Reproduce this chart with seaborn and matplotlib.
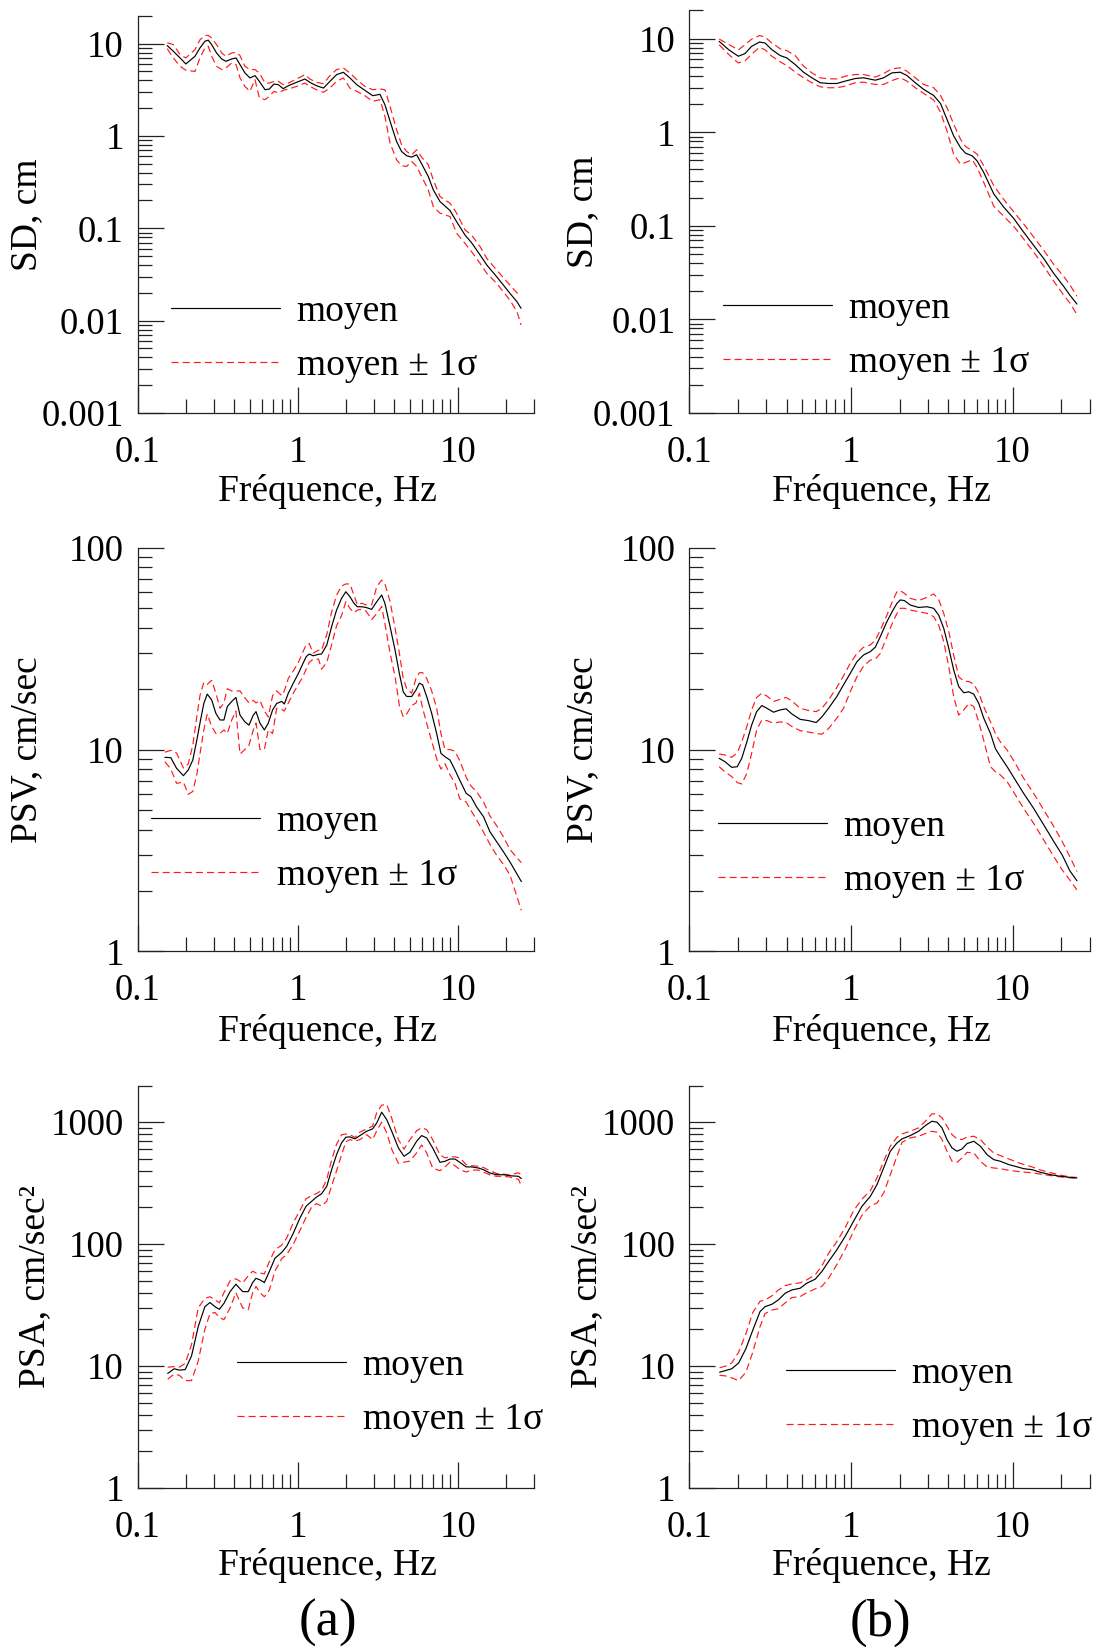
import numpy as np
import matplotlib
matplotlib.use("Agg")
import matplotlib.pyplot as plt
from matplotlib.ticker import LogLocator, NullFormatter
import seaborn as sns

# ---------------- Spectral data (frequency in Hz) ----------------
# Column (a): SD, cm
freq_sd_a = [0.153, 0.167, 0.184, 0.200, 0.228, 0.245, 0.263, 0.276, 0.290, 0.311,
             0.335, 0.356, 0.387, 0.412, 0.436, 0.468, 0.503, 0.541, 0.576, 0.625,
             0.665, 0.711, 0.757, 0.812, 0.874, 0.985, 1.11, 1.19, 1.31, 1.45,
             1.59, 1.75, 1.93, 2.12, 2.34, 2.63, 2.94, 3.27, 3.51, 3.78,
             4.15, 4.46, 4.80, 5.16, 5.54, 5.95, 6.55, 7.04, 7.75, 8.95,
             9.85, 11.1, 12.2, 13.8, 15.2, 17.5, 21.2, 23.5, 24.9]
sd_a_mean = [9.51, 8.26, 6.99, 6.02, 7.29, 8.98, 10.6, 10.9, 9.75, 7.92,
             6.82, 6.43, 6.82, 6.99, 5.92, 4.81, 4.25, 4.50, 3.90, 3.17,
             3.22, 3.65, 3.59, 3.25, 3.50, 3.81, 4.14, 3.81, 3.50, 3.30,
             3.90, 4.61, 4.89, 4.25, 3.59, 3.12, 2.73, 2.82, 2.18, 1.44,
             0.872, 0.679, 0.610, 0.590, 0.625, 0.500, 0.364, 0.261, 0.195, 0.156,
             0.118, 0.0848, 0.070, 0.0515, 0.0401, 0.030, 0.0198, 0.016, 0.0136]
sd_a_plus = [10.2, 9.75, 7.6, 7.0, 8.6, 11.0, 12.2, 12.3, 11.5, 9.75,
             7.92, 7.29, 7.92, 8.05, 7.41, 5.68, 5.23, 5.23, 4.81, 3.74,
             3.74, 3.90, 3.90, 3.59, 3.74, 4.14, 4.61, 4.14, 3.81, 3.68,
             4.50, 5.23, 5.45, 4.81, 4.07, 3.44, 3.17, 3.22, 3.17, 2.09,
             1.17, 0.803, 0.679, 0.625, 0.708, 0.59, 0.488, 0.335, 0.221, 0.187,
             0.146, 0.0962, 0.0848, 0.0634, 0.0473, 0.0354, 0.0243, 0.020, 0.019]
sd_a_minus = [8.8, 7.0, 5.68, 5.14, 5.0, 7.0, 8.98, 9.36, 7.29, 5.68,
              5.23, 5.45, 6.17, 5.92, 4.25, 3.44, 3.04, 4.07, 2.58, 2.47,
              2.69, 3.04, 2.92, 3.12, 3.22, 3.44, 3.74, 3.44, 3.17, 2.97,
              3.30, 3.90, 4.25, 3.30, 3.04, 2.73, 2.37, 2.47, 1.63, 0.837,
              0.552, 0.475, 0.468, 0.53, 0.468, 0.364, 0.261, 0.172, 0.146, 0.134,
              0.0884, 0.0689, 0.056, 0.0418, 0.0326, 0.0254, 0.0167, 0.0125, 0.009]

# Column (b): SD, cm
freq_sd_b = [0.153, 0.175, 0.201, 0.221, 0.243, 0.272, 0.294, 0.324, 0.365, 0.401,
             0.452, 0.509, 0.573, 0.645, 0.727, 0.818, 0.922, 1.063, 1.198, 1.415,
             1.593, 1.794, 2.02, 2.22, 2.50, 2.82, 3.25, 3.58, 3.93, 4.32,
             4.76, 5.11, 5.62, 6.03, 6.63, 7.65, 8.83, 10.2, 11.7, 13.5,
             15.6, 18.0, 20.8, 22.6, 25.0]
sd_b_mean = [9.37, 7.64, 6.49, 6.92, 8.29, 9.21, 8.99, 7.64, 6.60, 6.23,
             5.29, 4.38, 3.82, 3.38, 3.32, 3.32, 3.52, 3.75, 3.82, 3.60,
             3.82, 4.31, 4.38, 4.04, 3.38, 2.87, 2.47, 2.03, 1.37, 0.914,
             0.687, 0.598, 0.560, 0.495, 0.372, 0.219, 0.158, 0.119, 0.0857, 0.0618,
             0.0446, 0.0309, 0.0223, 0.0182, 0.0146]
sd_b_plus = [9.9, 8.7, 7.6, 8.6, 9.9, 10.8, 10.4, 9.0, 7.8, 7.45,
             6.6, 5.1, 4.31, 3.82, 3.72, 3.72, 3.97, 4.14, 4.14, 3.88,
             4.24, 4.76, 4.88, 4.49, 3.82, 3.24, 2.99, 2.48, 1.83, 1.22,
             0.843, 0.705, 0.638, 0.583, 0.438, 0.269, 0.191, 0.140, 0.105, 0.0760,
             0.0547, 0.0385, 0.0285, 0.0235, 0.0177]
sd_b_minus = [8.6, 6.8, 5.5, 5.8, 6.8, 8.1, 7.6, 6.5, 5.65, 5.16,
              4.4, 3.82, 3.38, 3.06, 2.99, 2.99, 3.11, 3.38, 3.43, 3.24,
              3.24, 3.57, 3.82, 3.52, 2.99, 2.60, 2.21, 1.64, 1.03, 0.583,
              0.457, 0.475, 0.508, 0.421, 0.292, 0.162, 0.126, 0.098, 0.0725, 0.0525,
              0.0370, 0.0255, 0.0180, 0.0150, 0.0113]

# Column (a): PSV, cm/sec
freq_psv_a = [0.148, 0.161, 0.175, 0.193, 0.207, 0.221, 0.234, 0.245, 0.259, 0.272,
              0.290, 0.308, 0.327, 0.346, 0.363, 0.387, 0.411, 0.436, 0.468, 0.496,
              0.528, 0.549, 0.581, 0.619, 0.655, 0.697, 0.739, 0.794, 0.825, 0.874,
              0.939, 1.01, 1.08, 1.13, 1.18, 1.25, 1.35, 1.41, 1.52, 1.63,
              1.75, 1.88, 2.00, 2.12, 2.25, 2.36, 2.51, 2.67, 2.90, 3.12,
              3.35, 3.51, 3.78, 4.06, 4.32, 4.57, 4.80, 5.16, 5.49, 5.76,
              6.04, 6.40, 6.88, 7.39, 7.86, 8.33, 8.95, 9.62, 10.3, 11.3,
              12.1, 13.1, 14.5, 15.9, 17.5, 19.3, 21.2, 25.0]
psv_a_mean = [9.15, 9.11, 8.07, 7.42, 7.92, 8.87, 11.1, 13.5, 16.9, 18.8,
              17.6, 15.1, 14.0, 14.0, 16.3, 17.3, 18.1, 14.8, 13.7, 13.2,
              14.8, 15.4, 13.5, 12.5, 13.5, 15.7, 16.9, 17.3, 16.8, 19.0,
              21.3, 23.8, 26.7, 28.8, 29.7, 29.1, 29.6, 29.7, 32.9, 40.6,
              49.0, 56.0, 60.4, 57.1, 52.9, 50.9, 50.9, 50.5, 49.4, 53.9,
              58.2, 52.9, 40.6, 31.1, 23.8, 19.3, 18.3, 18.3, 19.7, 21.3,
              20.9, 18.3, 15.1, 12.0, 9.57, 9.21, 8.87, 7.92, 7.06, 6.07,
              5.84, 5.21, 4.65, 3.92, 3.50, 3.12, 2.78, 2.22]
psv_a_plus = [9.7, 9.9, 9.6, 8.1, 8.5, 10.5, 14.5, 18.5, 21.5, 21.0,
              22.0, 19.0, 16.0, 17.0, 20.0, 19.5, 19.5, 19.5, 18.0, 17.0,
              17.5, 17.0, 17.5, 15.5, 14.5, 18.5, 19.5, 18.5, 19.5, 22.5,
              24.5, 27.0, 30.5, 33.0, 33.5, 30.0, 31.0, 31.0, 37.0, 48.0,
              58.0, 64.5, 66.0, 66.0, 58.0, 52.0, 53.0, 52.0, 52.0, 64.0,
              69.0, 66.0, 54.0, 40.0, 30.0, 22.5, 20.0, 19.0, 22.5, 24.0,
              24.0, 22.5, 19.5, 16.0, 12.0, 10.0, 10.0, 9.8, 8.8, 7.3,
              6.6, 6.2, 5.5, 4.7, 4.2, 3.7, 3.2, 2.75]
psv_a_minus = [8.7, 8.0, 6.8, 6.9, 6.0, 6.2, 7.5, 9.5, 12.5, 15.0,
               13.0, 12.0, 12.0, 12.5, 12.0, 14.0, 15.5, 9.5, 10.0, 10.5,
               12.5, 13.5, 10.0, 10.0, 12.5, 12.0, 16.0, 15.8, 15.5, 17.0,
               19.0, 21.0, 23.0, 25.0, 27.0, 28.0, 28.0, 25.0, 27.0, 33.0,
               41.0, 46.0, 54.0, 50.0, 47.5, 49.0, 49.5, 48.5, 44.0, 47.0,
               51.0, 42.0, 30.0, 23.0, 16.5, 14.5, 15.0, 16.5, 17.0, 19.0,
               16.0, 13.5, 11.0, 9.0, 8.0, 8.5, 7.5, 6.8, 5.7, 5.5,
               5.0, 4.5, 3.9, 3.4, 3.0, 2.7, 2.4, 1.6]

# Column (b): PSV, cm/sec
freq_psv_b = [0.153, 0.166, 0.183, 0.198, 0.211, 0.227, 0.243, 0.261, 0.281, 0.302,
              0.332, 0.365, 0.397, 0.431, 0.485, 0.546, 0.610, 0.661, 0.727, 0.818,
              0.900, 0.990, 1.089, 1.198, 1.317, 1.415, 1.519, 1.670, 1.820, 1.927,
              2.02, 2.14, 2.33, 2.62, 2.96, 3.25, 3.49, 3.75, 4.03, 4.32,
              4.64, 4.99, 5.36, 5.75, 6.18, 6.63, 7.30, 7.83, 8.41, 9.25,
              10.4, 11.7, 13.5, 15.6, 18.0, 20.3, 22.6, 25.0]
psv_b_mean = [9.04, 8.71, 8.16, 8.22, 9.04, 10.9, 13.2, 15.4, 16.5, 16.0,
              15.3, 15.7, 15.9, 15.0, 14.1, 13.9, 13.6, 14.5, 16.0, 18.3,
              20.9, 23.8, 27.2, 29.4, 30.5, 32.1, 36.2, 43.0, 49.0, 52.9,
              55.0, 54.6, 51.9, 50.5, 50.9, 50.0, 46.3, 39.8, 31.7, 24.8,
              20.5, 19.1, 19.3, 18.8, 16.9, 14.3, 12.0, 10.1, 9.21, 8.22,
              7.06, 6.07, 5.11, 4.23, 3.50, 3.00, 2.51, 2.24]
psv_b_plus = [9.50, 9.39, 9.15, 9.64, 10.9, 13.0, 15.7, 18.1, 19.0, 18.4,
              17.3, 17.7, 18.1, 17.4, 16.0, 15.6, 15.4, 16.0, 17.6, 20.3,
              23.2, 26.7, 29.9, 32.1, 32.9, 34.8, 39.0, 46.3, 55.0, 60.4,
              61.1, 59.3, 56.0, 54.6, 56.7, 58.9, 55.4, 47.2, 38.3, 29.4,
              22.9, 21.8, 21.7, 21.1, 19.0, 16.3, 13.7, 12.0, 10.9, 9.94,
              8.54, 7.20, 6.07, 5.02, 4.15, 3.50, 2.95, 2.49]
psv_b_minus = [8.22, 7.76, 7.34, 6.86, 6.75, 7.62, 9.57, 12.5, 14.0, 13.9,
               13.5, 13.7, 13.6, 13.0, 12.4, 12.2, 12.0, 11.9, 12.7, 14.3,
               16.0, 19.3, 22.9, 25.9, 27.7, 28.0, 29.9, 36.2, 43.0, 47.2,
               50.0, 50.0, 49.0, 48.1, 47.2, 45.5, 41.3, 34.2, 25.7, 18.3,
               14.8, 15.7, 16.9, 16.3, 13.7, 11.1, 8.22, 7.76, 7.48, 6.93,
               5.96, 5.11, 4.31, 3.56, 2.95, 2.53, 2.26, 2.02]

# Column (a): PSA, cm/sec^2
freq_psa_a = [0.154, 0.169, 0.182, 0.198, 0.217, 0.239, 0.263, 0.283, 0.304, 0.324,
              0.346, 0.378, 0.411, 0.453, 0.491, 0.523, 0.549, 0.581, 0.619, 0.665,
              0.721, 0.794, 0.853, 0.939, 1.034, 1.127, 1.22, 1.31, 1.41, 1.52,
              1.63, 1.75, 1.88, 2.00, 2.12, 2.28, 2.45, 2.70, 2.94, 3.12,
              3.35, 3.60, 3.87, 4.26, 4.62, 5.03, 5.54, 5.95, 6.40, 6.98,
              7.75, 8.33, 8.95, 9.62, 10.3, 11.3, 12.2, 13.5, 14.5, 15.9,
              17.5, 19.3, 21.2, 24.0, 25.0]
psa_a_mean = [8.7, 9.5, 9.27, 9.35, 12.1, 21.1, 30.7, 33.2, 30.7, 29.2,
              32.7, 40.8, 46.9, 40.8, 40.8, 48.4, 52.5, 50.9, 48.4, 59.6,
              76.7, 85.4, 95.7, 123, 164, 204, 224, 243, 259, 298,
              408, 542, 676, 753, 758, 730, 777, 843, 881, 987,
              1208, 1052, 843, 615, 525, 567, 698, 777, 743, 615,
              469, 478, 499, 499, 469, 430, 430, 421, 408, 383,
              371, 371, 364, 360, 345]
psa_a_plus = [9.8, 9.9, 9.8, 10.5, 15.0, 30.0, 36.0, 37.0, 35.0, 33.0,
              40.0, 50.0, 52.0, 48.0, 55.0, 60.0, 58.0, 58.0, 57.0, 72.0,
              90.0, 98.0, 112, 150, 190, 235, 250, 260, 275, 340,
              490, 660, 790, 800, 790, 750, 830, 880, 930, 1200,
              1380, 1400, 1080, 720, 600, 720, 850, 900, 870, 720,
              540, 510, 520, 520, 510, 450, 440, 435, 425, 400,
              380, 375, 370, 385, 370]
psa_a_minus = [7.8, 8.6, 8.4, 7.6, 7.6, 11.0, 20.0, 27.0, 27.5, 25.0,
               24.0, 30.0, 40.0, 30.0, 29.0, 40.0, 45.0, 40.0, 37.0, 42.0,
               60.0, 76.0, 82.0, 100, 130, 165, 200, 215, 205, 225,
               300, 400, 540, 690, 720, 700, 720, 790, 720, 850,
               1000, 820, 600, 460, 470, 480, 560, 650, 560, 420,
               400, 430, 470, 440, 410, 390, 405, 405, 390, 370,
               360, 360, 355, 340, 300]

# Column (b): PSA, cm/sec^2
freq_psa_b = [0.154, 0.168, 0.183, 0.202, 0.224, 0.247, 0.274, 0.294, 0.324, 0.356,
              0.392, 0.431, 0.485, 0.533, 0.601, 0.661, 0.727, 0.818, 0.922, 1.038,
              1.169, 1.317, 1.448, 1.593, 1.752, 1.927, 2.07, 2.33, 2.62, 2.89,
              3.17, 3.41, 3.66, 3.93, 4.22, 4.53, 4.87, 5.23, 5.75, 6.33,
              6.95, 7.65, 8.41, 9.48, 10.7, 11.7, 13.2, 14.9, 17.2, 19.8,
              22.6, 25.0]
psa_b_mean = [8.9, 9.2, 9.5, 10.6, 13.9, 19.7, 28.0, 30.7, 32.1, 34.9,
              39.6, 42.1, 43.5, 47.8, 51.6, 59.6, 72.0, 89.8, 116, 154,
              204, 246, 307, 421, 578, 676, 730, 777, 843, 939,
              1019, 1000, 898, 720, 615, 578, 604, 668, 698, 635,
              542, 493, 478, 449, 430, 416, 408, 388, 371, 360,
              353, 349]
psa_b_plus = [9.7, 10.0, 10.6, 13.0, 18.4, 27.5, 34.0, 34.8, 37.6, 42.1,
              45.7, 47.2, 48.1, 50.9, 56.0, 66.4, 84.0, 105, 137, 188,
              234, 274, 349, 478, 635, 753, 802, 843, 898, 1019,
              1170, 1170, 1086, 927, 792, 730, 721, 757, 767, 721,
              627, 559, 532, 500, 469, 450, 430, 405, 385, 368,
              356, 352]
psa_b_minus = [8.4, 8.3, 8.0, 7.6, 8.9, 13.0, 21.1, 26.9, 28.8, 29.5,
               33.0, 36.5, 37.1, 40.0, 43.0, 45.0, 52.5, 68.0, 91.0, 128,
               172, 206, 217, 262, 371, 526, 685, 743, 767, 807,
               843, 828, 721, 578, 478, 469, 509, 566, 560, 478,
               430, 421, 416, 403, 395, 390, 385, 375, 365, 356,
               350, 346]

# Axis tick labels
freq_ticks = [0.1, 1, 10]
freq_ticklabels = ["0.1", "1", "10"]
sd_ticks = [0.001, 0.01, 0.1, 1, 10]
sd_ticklabels = ["0.001", "0.01", "0.1", "1", "10"]
psv_ticks = [1, 10, 100]
psv_ticklabels = ["1", "10", "100"]
psa_ticks = [1, 10, 100, 1000]
psa_ticklabels = ["1", "10", "100", "1000"]

legend_labels = ["moyen", "moyen \u00b1 1\u03c3"]

# ---------------- Style ----------------
sns.set_theme(style="ticks")
plt.rcParams["font.family"] = ["Liberation Serif", "DejaVu Serif"]
plt.rcParams["axes.edgecolor"] = "#222222"
plt.rcParams["axes.linewidth"] = 0.9
plt.rcParams["text.color"] = "black"
plt.rcParams["axes.labelcolor"] = "black"
plt.rcParams["xtick.color"] = "#222222"
plt.rcParams["ytick.color"] = "#222222"
plt.rcParams["xtick.labelcolor"] = "black"
plt.rcParams["ytick.labelcolor"] = "black"

W, H = 1097, 1647
fig = plt.figure(figsize=(W / 100, H / 100), dpi=100)
fig.patch.set_facecolor("white")


def make_axes(left, top, right, bottom):
    return fig.add_axes([left / W, 1 - bottom / H, (right - left) / W, (bottom - top) / H])


MEAN_KW = dict(color="black", linewidth=0.85)
SIGMA_KW = dict(color="#ff1a1a", linewidth=0.85, linestyle=(0, (6.0, 3.4)))

TICK_FS = 26.5
LABEL_FS = 27


def draw_panel(ax, freq, mean, plus, minus, ylim, yticks, yticklabels, ylabel,
               ylabel_x, xlabel_y, legend_px):
    ax.set_xscale("log")
    ax.set_yscale("log")
    sns.lineplot(x=freq, y=plus, ax=ax, estimator=None, errorbar=None, **SIGMA_KW)
    sns.lineplot(x=freq, y=minus, ax=ax, estimator=None, errorbar=None, **SIGMA_KW)
    sns.lineplot(x=freq, y=mean, ax=ax, estimator=None, errorbar=None, **MEAN_KW)
    lines = ax.get_lines()

    ax.set_xlim(0.1, 30)
    ax.set_ylim(*ylim)
    ax.set_xticks(freq_ticks)
    ax.set_xticklabels(freq_ticklabels)
    ax.set_yticks(yticks)
    ax.set_yticklabels(yticklabels)
    ax.xaxis.set_minor_locator(LogLocator(base=10, subs=np.arange(2, 10), numticks=20))
    ax.yaxis.set_minor_locator(LogLocator(base=10, subs=np.arange(2, 10), numticks=20))
    ax.xaxis.set_minor_formatter(NullFormatter())
    ax.yaxis.set_minor_formatter(NullFormatter())
    ax.tick_params(which="major", direction="in", length=19, width=0.9,
                   labelsize=TICK_FS)
    ax.tick_params(axis="x", which="major", pad=16)
    ax.tick_params(axis="y", which="major", pad=10)
    ax.tick_params(which="minor", direction="in", length=10, width=0.9)
    ax.tick_params(top=False, right=False, which="both")
    sns.despine(ax=ax)
    ax.set_facecolor("white")
    ax.grid(False)

    ax.set_xlabel("Fr\u00e9quence, Hz", fontsize=LABEL_FS)
    ax.xaxis.set_label_coords(0.48, xlabel_y)
    ax.set_ylabel(ylabel, fontsize=LABEL_FS)
    ax.yaxis.set_label_coords(ylabel_x, 0.5)

    lx, ly = legend_px
    ax.legend([lines[2], lines[0]], legend_labels, loc="center left",
              bbox_to_anchor=(lx / W, 1 - ly / H), bbox_transform=fig.transFigure,
              frameon=False, fontsize=LABEL_FS, handlelength=2.9,
              handletextpad=0.45, labelspacing=0.52, borderpad=0, borderaxespad=0)


LEFT_A, RIGHT_A = 137.7, 534.0
LEFT_B, RIGHT_B = 689.3, 1089.7

ax = make_axes(LEFT_A, 15.8, RIGHT_A, 413)
draw_panel(ax, freq_sd_a, sd_a_mean, sd_a_plus, sd_a_minus, (0.001, 20),
           sd_ticks, sd_ticklabels, "SD, cm", -0.236, -0.154, (171, 339))

ax = make_axes(LEFT_B, 10.5, RIGHT_B, 413)
draw_panel(ax, freq_sd_b, sd_b_mean, sd_b_plus, sd_b_minus, (0.001, 20),
           sd_ticks, sd_ticklabels, "SD, cm", -0.223, -0.152, (723, 336))

ax = make_axes(LEFT_A, 547.5, RIGHT_A, 951.5)
draw_panel(ax, freq_psv_a, psv_a_mean, psv_a_plus, psv_a_minus, (1, 100),
           psv_ticks, psv_ticklabels, "PSV, cm/sec", -0.236, -0.154, (151, 849))

ax = make_axes(LEFT_B, 547.5, RIGHT_B, 951.5)
draw_panel(ax, freq_psv_b, psv_b_mean, psv_b_plus, psv_b_minus, (1, 100),
           psv_ticks, psv_ticklabels, "PSV, cm/sec", -0.223, -0.154, (718, 854))

ax = make_axes(LEFT_A, 1085.5, RIGHT_A, 1488)
draw_panel(ax, freq_psa_a, psa_a_mean, psa_a_plus, psa_a_minus, (1, 2000),
           psa_ticks, psa_ticklabels, "PSA, cm/sec\u00b2", -0.216, -0.149, (237, 1393))

ax = make_axes(LEFT_B, 1085.5, RIGHT_B, 1488)
draw_panel(ax, freq_psa_b, psa_b_mean, psa_b_plus, psa_b_minus, (1, 2000),
           psa_ticks, psa_ticklabels, "PSA, cm/sec\u00b2", -0.213, -0.149, (786, 1401))

fig.text(328 / W, 1 - 1623 / H, "(a)", ha="center", va="center", fontsize=38)
fig.text(880 / W, 1 - 1623 / H, "(b)", ha="center", va="center", fontsize=38)

fig.savefig("out.png", dpi=100, facecolor="white")
